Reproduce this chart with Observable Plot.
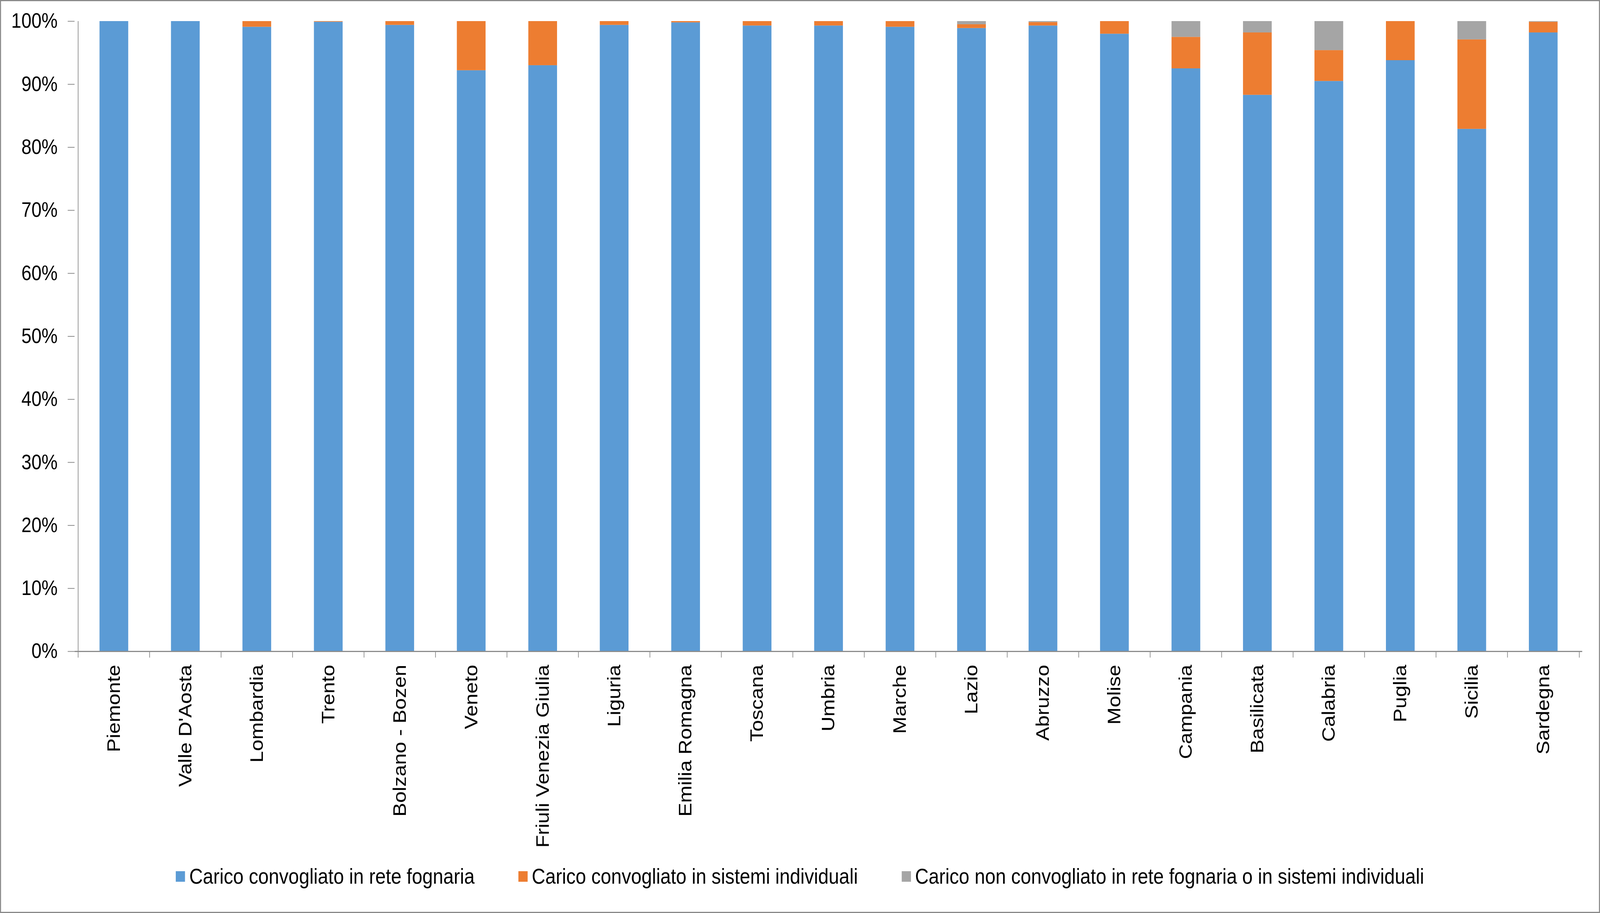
<!DOCTYPE html>
<html>
<head>
<meta charset="utf-8">
<script src="https://cdn.jsdelivr.net/npm/d3@7"></script>
<script src="https://cdn.jsdelivr.net/npm/@observablehq/plot@0.6"></script>
<style>
  html, body { margin: 0; padding: 0; background: white; overflow: hidden; }
  #viewport { position: relative; width: 100vw; height: 100vh; overflow: hidden; }
  #wrap {
    position: absolute; left: 0; top: 0; width: 4679px; height: 2337px; box-sizing: border-box;
    outline: 3px solid #8a8a8a; outline-offset: -3px; background: white;
    font-family: "Liberation Sans", Arial, sans-serif; overflow: hidden;
    transform-origin: 0 0;
  }
  #legend {
    display: flex; justify-content: center; align-items: center; gap: 128px;
    height: 86px; font-size: 55px; color: #000; font-family: "Liberation Sans", Arial, sans-serif;
  }
  #legend .item { display: flex; align-items: center; gap: 12px; white-space: nowrap; }
  #legend .sw { width: 27px; height: 27px; display: inline-block; }
</style>
</head>
<body>
<div id="viewport"><div id="wrap"><div id="chart"></div><div id="legend"></div></div></div>
<script>
const regions = ["Piemonte", "Valle D'Aosta", "Lombardia", "Trento", "Bolzano - Bozen", "Veneto",
  "Friuli Venezia Giulia", "Liguria", "Emilia Romagna", "Toscana", "Umbria", "Marche", "Lazio",
  "Abruzzo", "Molise", "Campania", "Basilicata", "Calabria", "Puglia", "Sicilia", "Sardegna"];
const seriesNames = ["Carico convogliato in rete fognaria", "Carico convogliato in sistemi individuali",
  "Carico non convogliato in rete fognaria o in sistemi individuali"];
const seriesColors = ["#5B9BD5", "#ED7D31", "#A5A5A5"];
const reteFognaria = [100, 100, 99.1, 99.9, 99.4, 92.2, 93.0, 99.4, 99.8, 99.3, 99.3, 99.1, 98.9, 99.3, 98.0, 92.5, 88.3, 90.5, 93.8, 82.9, 98.2];
const sistemiIndividuali = [0, 0, 0.9, 0.1, 0.6, 7.8, 7.0, 0.6, 0.2, 0.7, 0.7, 0.9, 0.6, 0.55, 2.0, 5.0, 9.9, 4.9, 6.2, 14.2, 1.7];
const nonConvogliato = [0, 0, 0, 0, 0, 0, 0, 0, 0, 0, 0, 0, 0.5, 0.15, 0, 2.5, 1.8, 4.6, 0, 2.9, 0.1];
const yTicks = [0, 10, 20, 30, 40, 50, 60, 70, 80, 90, 100];

// stretch the 4679x2337 design to fill whatever CSS viewport the browser gives
const sx = window.innerWidth / 4679, sy = window.innerHeight / 2337;
if (isFinite(sx) && isFinite(sy) && sx > 0 && sy > 0 && (Math.abs(sx - 1) > 0.002 || Math.abs(sy - 1) > 0.002)) {
  document.getElementById("wrap").style.transform = `scale(${sx}, ${sy})`;
}

const seriesValues = [reteFognaria, sistemiIndividuali, nonConvogliato];
const data = [];
regions.forEach((r, i) => {
  seriesValues.forEach((vals, s) => data.push({region: r, series: seriesNames[s], value: vals[i]}));
});

const axisColor = "#8c8c8c";
const chart = Plot.plot({
  width: 4679,
  height: 2200,
  marginLeft: 218,
  marginRight: 52,
  marginTop: 54,
  marginBottom: 533,
  style: {fontFamily: "'Liberation Sans', Arial, sans-serif", background: "transparent", color: "#000"},
  x: {domain: regions, paddingInner: 0.6, paddingOuter: 0.3, label: null},
  y: {domain: [0, 100], label: null},
  color: {domain: seriesNames, range: seriesColors},
  marks: [
    Plot.barY(data, {x: "region", y: "value", fill: "series", order: seriesNames}),
    Plot.ruleY([0], {stroke: axisColor, strokeWidth: 3}),
    Plot.ruleX(regions, {x: d => d, y1: 0, y2: -1, dx: -105, stroke: axisColor, strokeWidth: 2}),
    Plot.ruleX([regions[regions.length - 1]], {x: d => d, y1: 0, y2: -1, dx: 105, stroke: axisColor, strokeWidth: 2}),
    Plot.ruleX([regions[0]], {x: d => d, y1: 0, y2: 100, dx: -105, stroke: axisColor, strokeWidth: 2}),
    Plot.axisY({ticks: yTicks, tickFormat: d => d + "%", tickSize: 20, tickPadding: 30,
      fontSize: 53, stroke: axisColor, strokeWidth: 2, fill: "#000", label: null}),
    Plot.axisX({tickRotate: -90, tickSize: 0, tickPadding: 34, fontSize: 53, fill: "#000", label: null})
  ]
});
document.getElementById("chart").appendChild(chart);

const legend = document.getElementById("legend");
seriesNames.forEach((name, i) => {
  const item = document.createElement("div");
  item.className = "item";
  const sw = document.createElement("span");
  sw.className = "sw";
  sw.style.background = seriesColors[i];
  const tx = document.createElement("span");
  tx.textContent = name;
  item.appendChild(sw);
  item.appendChild(tx);
  legend.appendChild(item);
});
</script>
</body>
</html>
